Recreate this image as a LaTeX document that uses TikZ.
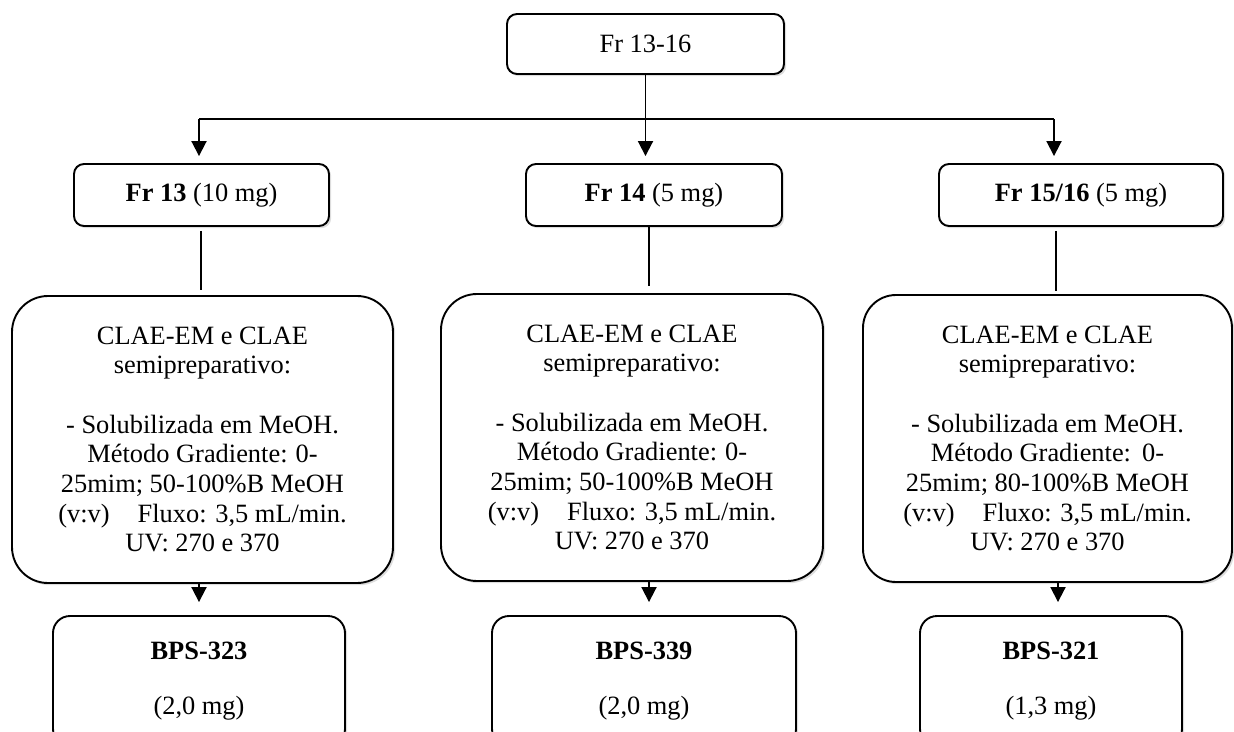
\documentclass[tikz,border=0pt]{standalone}
\usepackage{fontspec}
\setmainfont{Liberation Serif}
\usetikzlibrary{arrows.meta,shadows,calc}
\tikzset{
  basebox/.style={draw, line width=1.9pt, fill=white, inner sep=0pt, align=center,
    font=\fontsize{26.4pt}{29.7pt}\selectfont,
    drop shadow={shadow xshift=2.2pt, shadow yshift=-2.2pt, opacity=0.22, fill=black!60}},
  smallbox/.style={basebox, rounded corners=10pt, minimum height=62pt},
  bigbox/.style={basebox, rounded corners=36pt, minimum height=287pt},
  resbox/.style={basebox, rounded corners=17pt, minimum height=130pt},
  conn/.style={line width=1.9pt},
  arr/.style={conn, -{Triangle[width=15pt,length=15pt]}}
}
\newcommand{\clae}[2]{CLAE-EM e CLAE\\ semipreparativo:\\[29.7pt]
- Solubilizada em MeOH.\\ Método Gradiente:\hspace*{#2}0-\\
25mim; #1-100\%B MeOH\\ (v:v)\hspace*{28pt}Fluxo: 3,5 mL/min.\\ UV: 270 e 370}
\begin{document}
\begin{tikzpicture}[x=1pt,y=-1pt]
\useasboundingbox (0,0) rectangle (1234,731);
% top
\node[smallbox, minimum width=277pt, minimum height=60pt] (top) at (645.5,44) {Fr 13-16};
% row 2
\node[smallbox, minimum width=255pt] (f13) at (201.5,195) {\textbf{Fr 13} (10 mg)};
\node[smallbox, minimum width=256pt] (f14) at (654,195) {\textbf{Fr 14} (5 mg)};
\node[smallbox, minimum width=284pt] (f15) at (1081,195) {\textbf{Fr 15/16} (5 mg)};
% big boxes
\node[bigbox, minimum width=381pt] (c13) at (202.5,439.5) {\clae{50}{8pt}};
\node[bigbox, minimum width=382pt] (c14) at (632,437.5) {\clae{50}{8pt}};
\node[bigbox, minimum width=369pt, rounded corners=33pt] (c15) at (1047.5,438.5) {\clae{80}{11pt}};
% result boxes
\node[resbox, minimum width=292pt] (b13) at (199,681) {\textbf{BPS-323}\\[26pt](2,0 mg)};
\node[resbox, minimum width=304pt] (b14) at (644,681) {\textbf{BPS-339}\\[26pt](2,0 mg)};
\node[resbox, minimum width=262pt] (b15) at (1051,681) {\textbf{BPS-321}\\[26pt](1,3 mg)};
% connectors
\coordinate (hl) at (199,119);
\coordinate (hr) at (1054,119);
\coordinate (x13) at (201,0);
\coordinate (x14) at (649,0);
\coordinate (x15) at (1056,0);
\coordinate (y15) at (1058,0);
\draw[conn] (hl) -- (hr);
\draw[arr, shorten >=7pt] (top.south) -- (top.south |- f14.north);
\draw[arr, shorten >=7pt] (hl) -- (hl |- f13.north);
\draw[arr, shorten >=7pt] (hr) -- (hr |- f15.north);
\draw[conn, shorten <=4pt, shorten >=5pt] (x13 |- f13.south) -- (x13 |- c13.north);
\draw[conn, shorten >=7pt] (x14 |- f14.south) -- (x14 |- c14.north);
\draw[conn, shorten <=4pt, shorten >=3pt] (x15 |- f15.south) -- (x15 |- c15.north);
\draw[arr, shorten >=13pt] (c13.south -| b13.north) -- (b13.north);
\draw[arr, shorten >=13pt] (x14 |- c14.south) -- (x14 |- b14.north);
\draw[arr, shorten >=13pt] (y15 |- c15.south) -- (y15 |- b15.north);
\end{tikzpicture}
\end{document}
